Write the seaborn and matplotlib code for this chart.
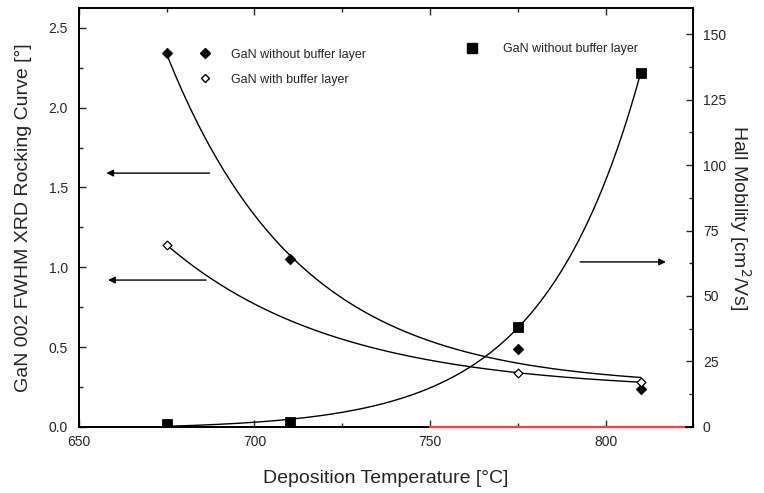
import numpy as np
import pandas as pd
import matplotlib
matplotlib.use("Agg")
import matplotlib.pyplot as plt
import seaborn as sns
from matplotlib.ticker import MultipleLocator
from matplotlib.lines import Line2D

sns.set_theme(style="ticks")
plt.rcParams['font.family'] = ['Liberation Sans', 'DejaVu Sans']

# data
temp_nobuf = [675, 710, 775, 810]
fwhm_nobuf = [2.34, 1.05, 0.49, 0.24]
temp_buf = [675, 775, 810]
fwhm_buf = [1.14, 0.34, 0.28]
temp_hall = [675, 710, 775, 810]
hall_nobuf = [1.0, 2.0, 38.0, 135.0]


def fit_exp(x, y, rates):
    """Least-squares fit of y = c + a*exp(k*(x - x0)), grid search on k."""
    x = np.asarray(x, float)
    y = np.asarray(y, float)
    best = None
    for k in rates:
        A = np.column_stack([np.ones_like(x), np.exp(k * (x - x[0]))])
        coef, res, _, _ = np.linalg.lstsq(A, y, rcond=None)
        err = np.sum((A @ coef - y) ** 2)
        if best is None or err < best[0]:
            best = (err, k, coef)
    _, k, coef = best
    xs = np.linspace(x[0], x[-1], 200)
    return xs, coef[0] + coef[1] * np.exp(k * (xs - x[0]))


fig = plt.figure(figsize=(7.64, 4.93), dpi=100)
ax = fig.add_axes([0.1034, 0.134, 0.804, 0.850])
ax2 = ax.twinx()

xs1, ys1 = fit_exp(temp_nobuf, fwhm_nobuf, -np.linspace(0.005, 0.1, 400))
xs2, ys2 = fit_exp(temp_buf, fwhm_buf, -np.linspace(0.005, 0.1, 400))
xs3, ys3 = fit_exp(temp_hall, hall_nobuf, np.linspace(0.005, 0.1, 400))

sns.lineplot(x=xs1, y=ys1, ax=ax, color='black', lw=1.0)
sns.lineplot(x=xs2, y=ys2, ax=ax, color='black', lw=1.0)
sns.lineplot(x=xs3, y=ys3, ax=ax2, color='black', lw=1.0)

sns.scatterplot(x=temp_nobuf, y=fwhm_nobuf, ax=ax, marker='D', s=30,
                color='black', edgecolor='black', zorder=5)
sns.scatterplot(x=temp_buf, y=fwhm_buf, ax=ax, marker='D', s=20,
                facecolor='white', edgecolor='black', linewidth=0.9, zorder=5)
sns.scatterplot(x=temp_hall, y=hall_nobuf, ax=ax2, marker='s', s=50,
                color='black', edgecolor='black', zorder=5)

ax.set_xlim(650, 825)
ax.set_ylim(0, 2.625)
ax2.set_ylim(0, 160)

# arrows pointing to the relevant axes
arrow = dict(arrowstyle='-|>', color='black', lw=1.0, mutation_scale=10)
ax.annotate('', xy=(657, 1.59), xytext=(688, 1.59), arrowprops=arrow)
ax.annotate('', xy=(657.5, 0.92), xytext=(687, 0.92), arrowprops=arrow)
ax2.annotate('', xy=(818, 63), xytext=(792, 63), arrowprops=arrow)

# red segment on the bottom axis (drawn on the top-most axes)
ax2.plot([750, 822.5], [0, 0], color='#ff4040', lw=1.6, clip_on=False, zorder=10)

ax.set_xlabel('Deposition Temperature [°C]', fontsize=14, labelpad=15)
ax.set_ylabel('GaN 002 FWHM XRD Rocking Curve [°]', fontsize=14, labelpad=12)
ax2.set_ylabel(r'Hall Mobility [cm$^2$/Vs]', fontsize=14, rotation=270, labelpad=19)

ax.xaxis.set_major_locator(MultipleLocator(50))
ax.xaxis.set_minor_locator(MultipleLocator(25))
ax.yaxis.set_major_locator(MultipleLocator(0.5))
ax.yaxis.set_minor_locator(MultipleLocator(0.25))
ax2.yaxis.set_major_locator(MultipleLocator(25))
ax2.yaxis.set_minor_locator(MultipleLocator(12.5))

ax.tick_params(axis='x', which='both', direction='in', top=True, labelsize=10, pad=6)
ax.tick_params(axis='y', which='both', direction='in', labelsize=10, pad=8)
ax2.tick_params(axis='y', which='both', direction='in', labelsize=10, pad=7)
for a in (ax, ax2):
    a.tick_params(which='major', length=5, width=1)
    a.tick_params(which='minor', length=3, width=1)
    for s in a.spines.values():
        s.set_linewidth(1.3)
        s.set_color('black')
ax.yaxis.set_major_formatter(matplotlib.ticker.FormatStrFormatter('%.1f'))

h1 = Line2D([], [], ls='', marker='D', ms=5.5, color='black')
h2 = Line2D([], [], ls='', marker='D', ms=4.5, mfc='white', mec='black')
h3 = Line2D([], [], ls='', marker='s', ms=7, color='black')
ax.legend([h1, h2], ['GaN without buffer layer', 'GaN with buffer layer'],
          loc='upper left', bbox_to_anchor=(0.175, 0.918), frameon=False,
          fontsize=9, handletextpad=1.1, labelspacing=1.05, borderpad=0)
ax2.legend([h3], ['GaN without buffer layer'], loc='upper left',
           bbox_to_anchor=(0.609, 0.93), frameon=False, fontsize=9,
           handletextpad=1.5, borderpad=0)

fig.savefig('out.png', dpi=100)
